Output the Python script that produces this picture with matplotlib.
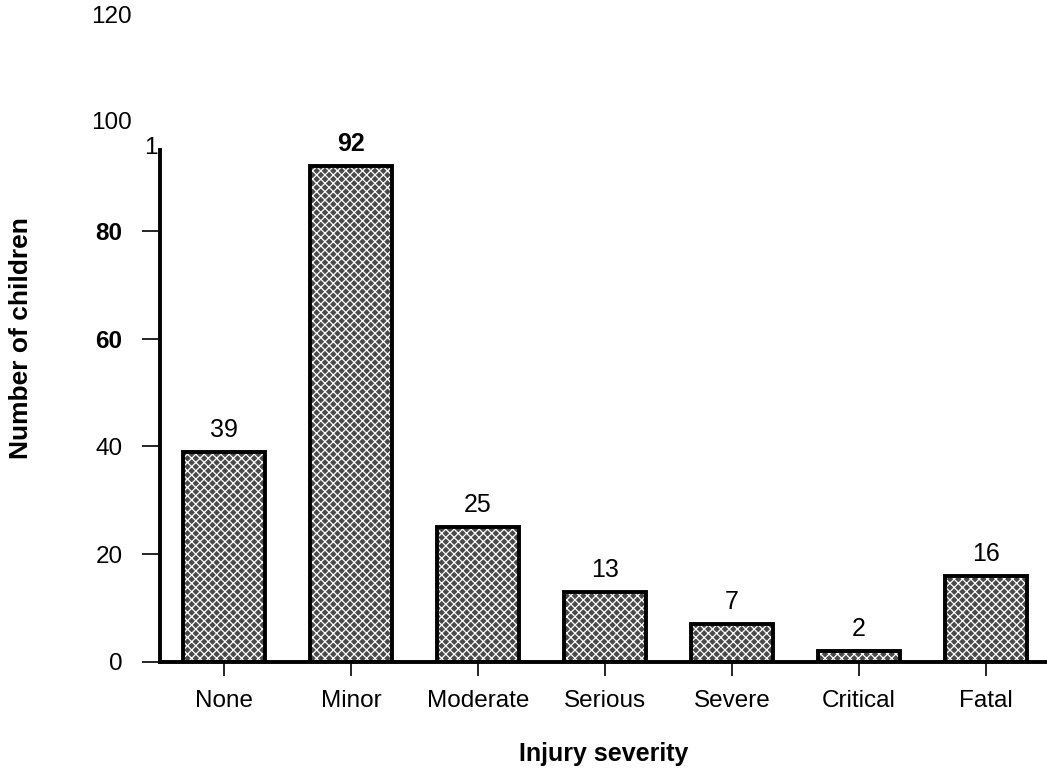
import matplotlib.pyplot as plt

plt.rcParams['font.family'] = ['Liberation Sans', 'DejaVu Sans']
plt.rcParams['hatch.linewidth'] = 0.9

# datos
categorias = ['None', 'Minor', 'Moderate', 'Serious', 'Severe', 'Critical', 'Fatal']
ninos = [39, 92, 25, 13, 7, 2, 16]
negrita = [False, True, False, False, False, False, False]
yticks = [0, 20, 40, 60, 80]
yticks_negrita = [False, False, False, True, True]
yticks_extra = [100, 120]

fig = plt.figure(figsize=(10.47, 7.68), dpi=100)
ax = fig.add_axes([160 / 1047, 106 / 768, 887 / 1047, 512 / 768])

x = list(range(len(categorias)))

# relleno punteado + borde negro
ax.bar(x, ninos, width=0.65, color='#4a4a4a', edgecolor='white', linewidth=0,
       hatch='xxxx', zorder=2)
ax.bar(x, ninos, width=0.65, fill=False, edgecolor='black', linewidth=2.8, zorder=3)

for xi, v, b in zip(x, ninos, negrita):
    ax.text(xi, v + 1.9, str(v), ha='center', va='bottom',
            fontsize=18, fontweight='bold' if b else 'normal')

ax.set_xlim(-0.505, 6.48)
ax.set_ylim(0, 95)

ax.spines['top'].set_visible(False)
ax.spines['right'].set_visible(False)
ax.spines['left'].set_linewidth(2.8)
ax.spines['bottom'].set_linewidth(2.8)

ax.set_xticks(x)
ax.set_xticklabels(categorias, fontsize=17.5)
ax.tick_params(axis='x', length=10, width=1.2, pad=10)
ax.set_yticks(yticks)
ax.set_yticklabels([str(t) for t in yticks], fontsize=17.5)
for lab, b in zip(ax.get_yticklabels(), yticks_negrita):
    if b:
        lab.set_fontweight('bold')
ax.tick_params(axis='y', length=13, width=1.2, pad=14)

for t in yticks_extra:
    ax.text(-0.505 - 0.22, t - 0.4 * (t == 120), str(t), ha='right', va='center',
            fontsize=17.5, clip_on=False)
ax.text(-0.505 - 0.02, 95.4, '1', ha='right', va='center', fontsize=17.5, clip_on=False)

ax.set_xlabel('Injury severity', fontsize=18, fontweight='bold', labelpad=22)
fig.text(21 / 1047, 1 - 338 / 768, 'Number of children', rotation=90,
         ha='center', va='center', fontsize=19, fontweight='bold')

fig.savefig('out.png', dpi=100)
